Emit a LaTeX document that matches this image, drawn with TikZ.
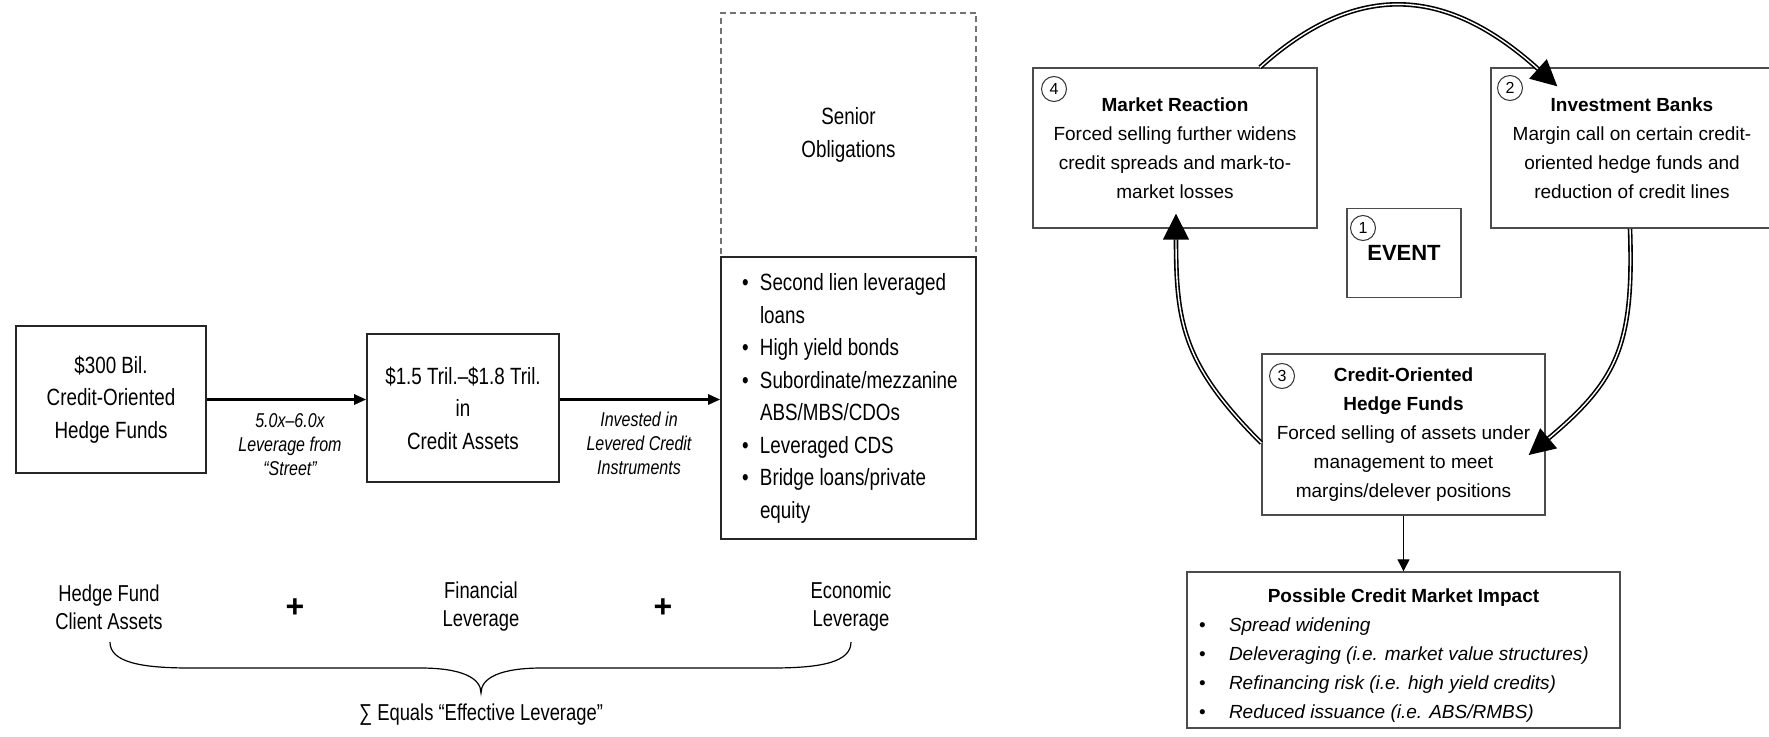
\documentclass[tikz,border=0pt]{standalone}
\usepackage{fontspec}
\setmainfont{Liberation Sans}
\newfontfamily\narrowsf[FakeStretch=0.8]{Liberation Sans}
\usetikzlibrary{arrows.meta,positioning}

\begin{document}
\begin{tikzpicture}[x=0.5pt,y=0.5pt,
    lbox/.style={rectangle, draw=black!85, line width=0.8pt, inner sep=0pt, align=center, font=\narrowsf\fontsize{11.75}{16.25}\selectfont},
    levlabel/.style={align=center, font=\narrowsf\itshape\fontsize{10}{12}\selectfont},
    sumlabel/.style={align=center, font=\narrowsf\fontsize{11.5}{14}\selectfont},
    plus/.style={font=\bfseries\fontsize{16}{16}\selectfont},
    rbox/.style={rectangle, draw=black!70, line width=0.7pt, inner sep=0pt, align=center, font=\fontsize{9.5}{14.5}\selectfont},
    num/.style={circle, draw=black!80, line width=0.5pt, inner sep=0pt, minimum size=12.5pt, font=\fontsize{8}{8}\selectfont},
    arrow/.style={-{Triangle[length=6pt,width=5pt]}, line width=1.3pt},
    ringarrow/.style={double=white, line width=0.8pt, double distance=0.7pt, -{Triangle[length=13pt,width=13pt]}},
    dropline/.style={-{Triangle[length=6pt,width=6pt]}, line width=0.6pt}
]
    \useasboundingbox (0,0) rectangle (1769,736);

    % leverage chain
    \node[lbox, minimum width=95pt, minimum height=73.5pt] (fund) at (111,336.5) {\$300 Bil.\\Credit-Oriented\\Hedge Funds};
    \node[lbox, minimum width=96pt, minimum height=74pt] (assets) at (463,328) {\$1.5 Tril.–\$1.8 Tril.\\in\\Credit Assets};
    \node[lbox, draw=black!55, dash pattern=on 3pt off 2pt, minimum width=127.5pt, minimum height=122.25pt] (senior) at (848.5,601) {Senior\\Obligations};
    \node[lbox, minimum width=127.5pt, minimum height=141pt] (junior) at (848.5,338) {%
        \begin{tabular}{@{\hspace{10.5pt}}p{9pt}@{}p{108pt}@{}}
        \textbullet & Second lien leveraged\\
                    & loans\\
        \textbullet & High yield bonds\\
        \textbullet & Subordinate/mezzanine\\
                    & ABS/MBS/CDOs\\
        \textbullet & Leveraged CDS\\
        \textbullet & Bridge loans/private\\
                    & equity
        \end{tabular}};

    \draw[arrow] (fund.east) -- (fund.east -| assets.west);
    \draw[arrow] (fund.east -| assets.east) -- (fund.east -| junior.west);
    \node[levlabel] (street) at (290,291) {5.0x–6.0x\\Leverage from\\“Street”};
    \node[levlabel] (invest) at (639,293) {Invested in\\Levered Credit\\Instruments};

    % effective leverage sum
    \node[sumlabel] (client) at (109,129) {Hedge Fund\\Client Assets};
    \node[sumlabel] (financial) at (481,129) {Financial\\Leverage};
    \node[sumlabel] (economic) at (851,129) {Economic\\Leverage};
    \node[plus] (plusa) at (295,128) {+};
    \node[plus] (plusb) at (663,128) {+};
    \draw[line width=0.6pt] (110,94) .. controls (110,74) and (140,68) .. (190,68) -- (420,68)
        .. controls (462,68) and (481,58) .. (481,43) .. controls (481,58) and (500,68) .. (542,68)
        -- (772,68) .. controls (822,68) and (851,74) .. (851,94);
    \node[sumlabel] (total) at (481,21) {∑ Equals “Effective Leverage”};

    % feedback loop
    \node[rbox, minimum width=142pt, minimum height=80pt] (reaction) at (1175,588) {\textbf{Market Reaction}\\Forced selling further widens\\credit spreads and mark-to-\\market losses};
    \node[rbox, minimum width=141pt, minimum height=80pt] (banks) at (1632,588) {\textbf{Investment Banks}\\Margin call on certain credit-\\oriented hedge funds and\\reduction of credit lines};
    \node[rbox, minimum width=57pt, minimum height=44.5pt, font=\bfseries\fontsize{11}{13}\selectfont] (event) at (1404,483) {EVENT};
    \node[rbox, minimum width=141.5pt, minimum height=80.5pt] (hedge) at (1403.5,301.5) {\textbf{Credit-Oriented}\\\textbf{Hedge Funds}\\Forced selling of assets under\\management to meet\\margins/delever positions};
    \node[rbox, minimum width=216.5pt, minimum height=78pt] (impact) at (1403.5,86) {%
        \begin{tabular}{@{\hspace{6pt}}p{15pt}@{}p{195.5pt}@{}}
        \multicolumn{2}{@{}c@{}}{\rule{0pt}{14.5pt}\textbf{Possible Credit Market Impact}}\\
        \textbullet & \textit{Spread widening}\\
        \textbullet & \textit{Deleveraging (i.e. market value structures)}\\
        \textbullet & \textit{Refinancing risk (i.e. high yield credits)}\\
        \textbullet & \textit{Reduced issuance (i.e. ABS/RMBS)}
        \end{tabular}};

    \node[num] (n4) at (1054,647) {4};
    \node[num] (n2) at (1510,648) {2};
    \node[num] (n1) at (1363,508) {1};
    \node[num] (n3) at (1282,360) {3};

    \draw[ringarrow] ([xshift=42.5pt]reaction.north) to[out=42,in=138,looseness=1.2] ([xshift=33.5pt,yshift=-9.5pt]banks.north west);
    \draw[ringarrow] ([xshift=-1pt]banks.south) to[out=-88,in=40,looseness=1.2] ([xshift=-8.5pt,yshift=-10.25pt]hedge.east);
    \draw[ringarrow] ([yshift=-4.25pt]hedge.west) to[out=135,in=-90,looseness=1.15] ([xshift=0.5pt,yshift=7.5pt]reaction.south);
    \draw[dropline] (hedge.south) -- (impact.north);
\end{tikzpicture}
\end{document}
